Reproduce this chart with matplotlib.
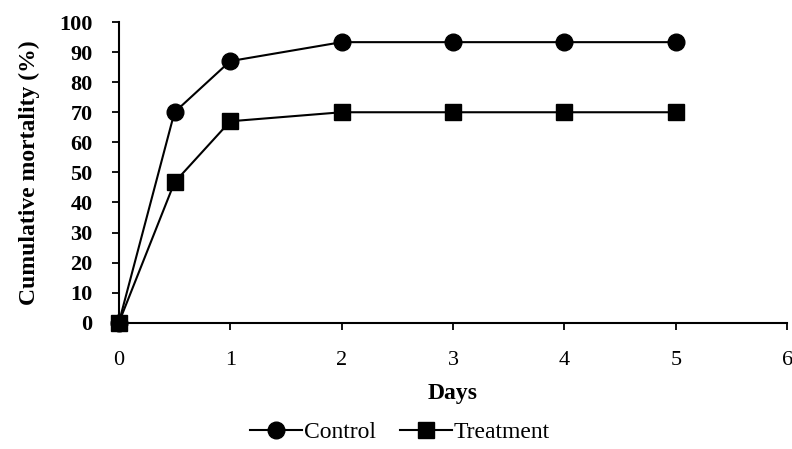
import matplotlib
matplotlib.use("Agg")
import matplotlib.pyplot as plt

days = [0, 0.5, 1, 2, 3, 4, 5]
control = [0, 70, 87, 93.3, 93.3, 93.3, 93.3]
treatment = [0, 46.7, 67, 70, 70, 70, 70]
xticks = [0, 1, 2, 3, 4, 5, 6]
yticks = list(range(0, 101, 10))

plt.rcParams['font.family'] = ['Liberation Serif', 'DejaVu Serif']

fig = plt.figure(figsize=(7.92, 4.49), dpi=100)
ax = fig.add_axes([0.150, 0.281, 0.844, 0.670])

ax.plot(days, control, color='black', lw=1.5, marker='o', markersize=12,
        label='Control', clip_on=False, zorder=3)
ax.plot(days, treatment, color='black', lw=1.5, marker='s', markersize=12,
        label='Treatment', clip_on=False, zorder=3)

ax.set_xlim(0, 6)
ax.set_ylim(0, 100)
ax.set_xticks(xticks)
ax.set_yticks(yticks)
ax.tick_params(axis='both', direction='out', length=5, width=1.3, labelsize=16)
ax.tick_params(axis='x', pad=15)
ax.tick_params(axis='y', pad=14)
for lab in ax.get_yticklabels():
    lab.set_fontweight('bold')
for s in ['top', 'right']:
    ax.spines[s].set_visible(False)
for s in ['left', 'bottom']:
    ax.spines[s].set_linewidth(1.5)

ax.set_xlabel('Days', fontsize=17, fontweight='bold', labelpad=10)
ax.set_ylabel('Cumulative mortality (%)', fontsize=17, fontweight='bold', labelpad=14)

fig.legend(loc='lower center', bbox_to_anchor=(0.505, -0.035), ncol=2, frameon=False,
           fontsize=17, handlelength=2.2, handletextpad=0.1, columnspacing=1.0)

fig.savefig('out.png', dpi=100)
